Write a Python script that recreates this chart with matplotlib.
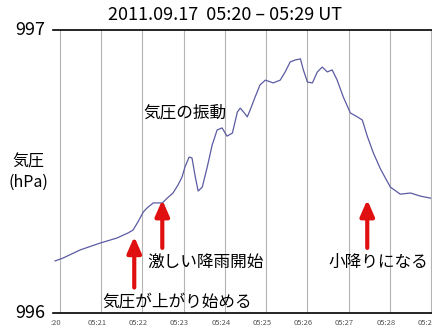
import matplotlib
matplotlib.use('Agg')
import matplotlib.pyplot as plt

plt.rcParams['font.family'] = ['Noto Sans CJK JP', 'DejaVu Sans']

# minutes after 05:20 UT
minutes = [-0.12, 0.07, 0.49, 0.97, 1.38, 1.65, 1.77, 1.89, 2.02, 2.11,
           2.26, 2.35, 2.48, 2.60, 2.74, 2.86, 2.96, 3.03, 3.13, 3.20,
           3.28, 3.35, 3.45, 3.57, 3.69, 3.81, 3.93, 4.05, 4.18, 4.30,
           4.37, 4.47, 4.54, 4.61, 4.73, 4.85, 4.98, 5.17, 5.34, 5.46,
           5.58, 5.70, 5.83, 5.90, 6.00, 6.12, 6.24, 6.36, 6.48, 6.60,
           6.72, 6.87, 7.04, 7.21, 7.33, 7.45, 7.60, 7.77, 8.01, 8.25,
           8.50, 8.74, 8.98]
# pressure (hPa)
pressure = [996.184, 996.194, 996.223, 996.247, 996.265, 996.283, 996.293, 996.322, 996.357, 996.371,
            996.389, 996.389, 996.389, 996.406, 996.424, 996.452, 996.481, 996.516, 996.551, 996.548,
            996.481, 996.431, 996.445, 996.516, 996.594, 996.647, 996.654, 996.625, 996.636, 996.710,
            996.724, 996.707, 996.693, 996.717, 996.763, 996.806, 996.823, 996.813, 996.823, 996.852,
            996.887, 996.894, 996.898, 996.859, 996.816, 996.813, 996.852, 996.869, 996.852, 996.859,
            996.823, 996.763, 996.707, 996.693, 996.682, 996.625, 996.565, 996.509, 996.445, 996.420,
            996.424, 996.413, 996.406]

tick_pos = [0, 1, 2, 3, 4, 5, 6, 7, 8, 9]
tick_labels = [':20', '05:21', '05:22', '05:23', '05:24', '05:25', '05:26', '05:27', '05:28', '05:29']

# arrows: x, tail, tip
arrows = [(1.80, 996.09, 996.27),
          (2.48, 996.23, 996.40),
          (7.45, 996.23, 996.40)]

# annotations: text, x, y
notes = [('気圧の振動', 3.03, 996.707),
         ('激しい降雨開始', 3.52, 996.177),
         ('気圧が上がり始める', 2.85, 996.039),
         ('小降りになる', 7.72, 996.18)]

fig = plt.figure(figsize=(4.32, 3.28), dpi=100)
ax = fig.add_axes([0.1227, 0.0457, 0.8773, 0.8628])

ax.plot(minutes, pressure, color='#5b5ba3', lw=0.9)

ax.set_xlim(-0.17, 9.02)
ax.set_ylim(996, 997)
for t in tick_pos:
    ax.axvline(t, color='#b4b4b4', lw=0.8, zorder=0)

ax.set_xticks([t - 0.1 for t in tick_pos])
ax.set_xticklabels(tick_labels, fontsize=5.5, color='#555555')
ax.tick_params(axis='x', length=0, pad=4)
ax.set_yticks([])
ax.spines['left'].set_visible(False)
ax.spines['right'].set_visible(False)
for s in ['top', 'bottom']:
    ax.spines[s].set_color('black')
    ax.spines[s].set_linewidth(1.2)

for x, y0, y1 in arrows:
    ax.annotate('', xy=(x, y1), xytext=(x, y0),
                arrowprops=dict(arrowstyle='-|>,head_width=0.35,head_length=0.8',
                                mutation_scale=12, color='#e01010', lw=3,
                                shrinkA=0, shrinkB=0))

for txt, x, y in notes:
    ax.text(x, y, txt, fontsize=12, ha='center', va='center')

fig.text(0.52, 0.955, '2011.09.17  05:20 – 05:29 UT', fontsize=13, ha='center', va='center')
fig.text(0.07, 0.908, '997', fontsize=13, ha='center', va='center')
fig.text(0.07, 0.046, '996', fontsize=13, ha='center', va='center')
fig.text(0.065, 0.475, '気圧\n(hPa)', fontsize=11.5, ha='center', va='center', linespacing=1.2)

fig.savefig('out.png', dpi=100)
